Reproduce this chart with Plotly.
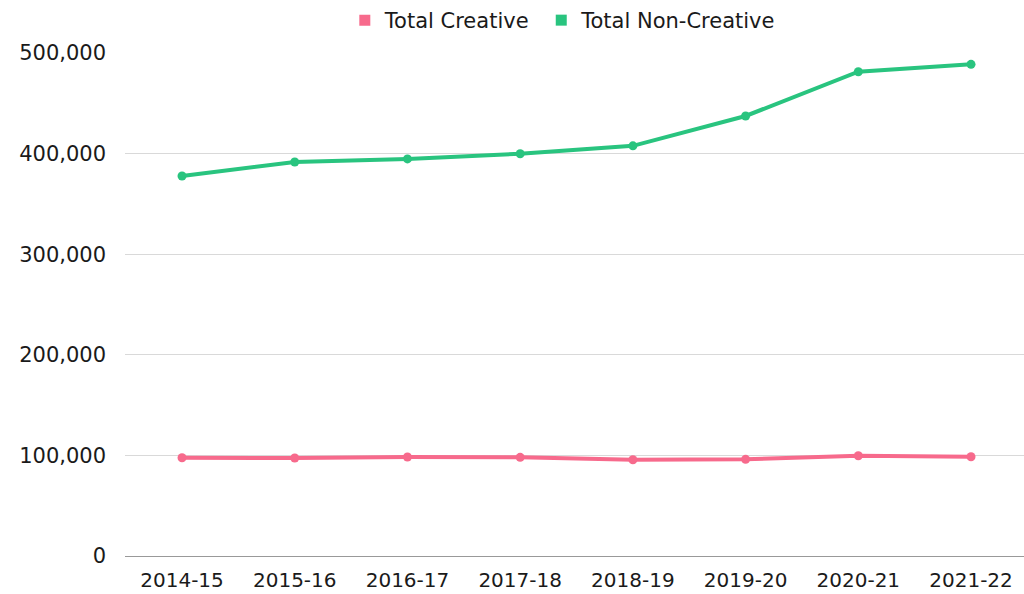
import plotly.graph_objects as go

years = ["2014-15", "2015-16", "2016-17", "2017-18", "2018-19", "2019-20", "2020-21", "2021-22"]
creative = [97700, 97400, 98400, 98100, 95700, 96100, 99700, 98700]
non_creative = [377700, 391600, 394700, 399900, 407700, 437400, 481400, 488700]
y_ticks = [0, 100000, 200000, 300000, 400000, 500000]
y_labels = ["0", "100,000", "200,000", "300,000", "400,000", "500,000"]

PINK = "#F76A8C"
GREEN = "#29C47F"
FONT = "DejaVu Sans"

fig = go.Figure()
for name, vals, col in [("Total Creative", creative, PINK), ("Total Non-Creative", non_creative, GREEN)]:
    fig.add_trace(go.Scatter(x=years, y=vals, mode="lines+markers", name=name,
                             line=dict(color=col, width=4), marker=dict(color=col, size=9),
                             showlegend=False, cliponaxis=False))
for name, col in [("Total Creative ", PINK), ("Total Non-Creative", GREEN)]:
    fig.add_trace(go.Scatter(x=[None], y=[None], mode="markers", name=name,
                             marker=dict(color=col, size=11, symbol="square")))

fig.update_layout(
    width=1024, height=594,
    margin=dict(l=125, r=0, t=53, b=38, autoexpand=False),
    paper_bgcolor="white", plot_bgcolor="white",
    font=dict(family=FONT, size=21, color="#1a1a1a"),
    legend=dict(orientation="h", x=0.487, xanchor="center", y=1.0, yref="container",
                yanchor="top", font=dict(size=21), itemwidth=30, tracegroupgap=0),
    xaxis=dict(showgrid=False, showline=True, linecolor="#999", linewidth=1,
               range=[-0.506, 7.47],
               ticks="", tickfont=dict(size=20), ticklabelstandoff=6),
    yaxis=dict(range=[0, 500000], tickvals=y_ticks, ticktext=y_labels,
               showgrid=True, gridcolor="#D9D9D9", gridwidth=1, zeroline=False,
               showline=False, ticks="", tickfont=dict(size=21), ticklabelstandoff=18),
)
fig.write_html("out.html", config={"displayModeBar": False},
               post_script="document.body.style.margin='0';document.body.style.overflow='hidden';")
